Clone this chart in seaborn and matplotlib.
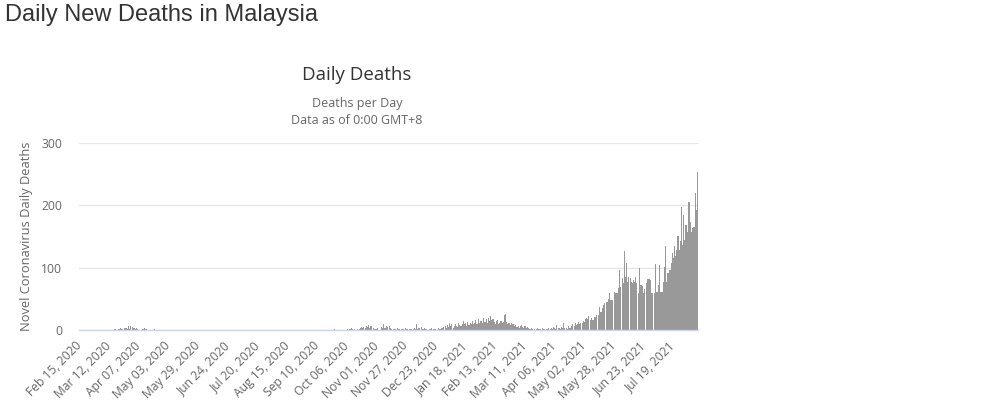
import pandas as pd
import matplotlib
matplotlib.use("Agg")
import matplotlib.pyplot as plt
import seaborn as sns

# Daily new deaths, one list per month
feb_2020 = [0, 0, 0, 0, 0, 0, 0, 0, 0, 0, 0, 0, 0, 0, 0]
mar_2020 = [0, 0, 0, 0, 0, 0, 0, 0, 0, 0, 0, 0, 0, 0, 0, 0,
            2, 0, 0, 1, 2, 4, 2, 2, 3, 4, 3, 1, 7, 2, 6]
apr_2020 = [5, 3, 4, 2, 4, 2, 0, 0, 0, 1, 2, 3, 1, 2, 0,
            0, 0, 0, 0, 0, 2, 0, 0, 0, 0, 0, 0, 0, 0, 0]
may_2020 = [0, 0, 0, 0, 0, 0, 0, 0, 0, 0, 0, 0, 0, 0, 0, 0,
            0, 0, 0, 0, 0, 0, 0, 0, 0, 0, 0, 0, 0, 0, 0]
jun_2020 = [0, 0, 0, 0, 0, 0, 0, 0, 0, 0, 0, 0, 0, 0, 0,
            0, 0, 0, 0, 0, 0, 0, 0, 0, 0, 0, 0, 0, 0, 0]
jul_2020 = [0, 0, 0, 0, 0, 0, 0, 0, 0, 0, 0, 0, 0, 0, 0, 0,
            0, 0, 0, 0, 0, 0, 0, 0, 0, 0, 0, 0, 0, 0, 0]
aug_2020 = [0, 0, 0, 0, 0, 0, 0, 0, 0, 0, 0, 0, 0, 0, 0, 0,
            0, 0, 0, 0, 0, 0, 0, 0, 0, 0, 0, 0, 0, 0, 0]
sep_2020 = [0, 0, 0, 0, 0, 0, 0, 0, 0, 0, 0, 0, 0, 0, 0,
            0, 0, 0, 0, 0, 0, 0, 0, 0, 1, 0, 0, 0, 0, 0]
oct_2020 = [0, 0, 0, 0, 0, 0, 1, 2, 1, 3, 1, 0, 1, 0, 1, 0,
            1, 3, 5, 4, 5, 4, 6, 5, 8, 4, 7, 6, 3, 1, 2]
nov_2020 = [1, 3, 0, 0, 5, 4, 9, 4, 3, 6, 5, 7, 4, 1, 0,
            1, 2, 1, 3, 2, 1, 0, 2, 1, 2, 3, 1, 2, 0, 1]
dec_2020 = [2, 1, 2, 3, 2, 10, 2, 4, 3, 5, 2, 1, 3, 2, 1, 0,
            2, 1, 3, 0, 1, 2, 1, 0, 3, 2, 1, 3, 4, 5, 6]
jan_2021 = [4, 8, 5, 11, 6, 9, 4, 7, 10, 6, 5, 12, 8, 6, 10, 15,
            9, 11, 7, 13, 8, 12, 10, 14, 9, 12, 16, 10, 18, 11, 14]
feb_2021 = [15, 11, 19, 13, 17, 12, 20, 14, 22, 16, 18, 13, 10, 14,
            16, 9, 12, 15, 11, 13, 24, 25, 13, 9, 11, 8, 12, 10]
mar_2021 = [9, 6, 8, 5, 7, 4, 6, 8, 5, 4, 6, 3, 5, 4, 2, 1,
            3, 2, 1, 0, 2, 3, 1, 2, 1, 3, 2, 1, 0, 2, 1]
apr_2021 = [3, 2, 4, 1, 5, 3, 2, 8, 3, 4, 2, 5, 3, 12, 4,
            3, 2, 6, 4, 3, 7, 9, 6, 11, 8, 10, 13, 9, 12, 11]
may_2021 = [15, 13, 18, 20, 17, 23, 16, 20, 16, 16, 21, 21, 24, 24, 37, 29,
            29, 35, 40, 44, 45, 45, 49, 59, 48, 48, 48, 61, 60, 60, 59]
jun_2021 = [67, 96, 69, 83, 75, 126, 85, 107, 77, 85, 83, 77, 75, 80, 77,
            85, 75, 59, 99, 72, 72, 70, 59, 65, 75, 82, 82, 82, 80, 59]
jul_2021 = [59, 59, 106, 61, 61, 72, 104, 61, 61, 77, 101, 134, 77, 91, 91, 96,
            107, 123, 115, 134, 118, 128, 151, 129, 142, 197, 136, 184, 144, 168, 158]
aug_2021 = [206, 206, 174, 158, 163, 166, 219, 193, 254]

start_date = "2020-02-15"
tick_step = 26
y_ticks = [0, 100, 200, 300]

deaths = (feb_2020 + mar_2020 + apr_2020 + may_2020 + jun_2020 + jul_2020
          + aug_2020 + sep_2020 + oct_2020 + nov_2020 + dec_2020 + jan_2021
          + feb_2021 + mar_2021 + apr_2021 + may_2021 + jun_2021 + jul_2021
          + aug_2021)
dates = pd.date_range(start_date, periods=len(deaths), freq="D")
df = pd.DataFrame({"day": dates.strftime("%b %d, %Y"), "deaths": deaths})

sns.set_style("white")
plt.rcParams["font.family"] = ["Open Sans", "DejaVu Sans"]

fig = plt.figure(figsize=(9.84, 4.03), dpi=100)
ax = fig.add_axes([79 / 984, 1 - 330 / 403, 619 / 984, 187 / 403])

sns.barplot(data=df, x="day", y="deaths", color="#999999", saturation=1,
            width=0.92, linewidth=0, errorbar=None, ax=ax)

ax.set_xlim(-0.5, len(deaths) - 0.5)
ax.set_ylim(0, 300)
ax.set_yticks(y_ticks)
ax.set_yticklabels([str(v) for v in y_ticks], color="#666666", fontsize=8.7)
ax.yaxis.grid(True, color="#e6e6e6", linewidth=1)
ax.set_axisbelow(True)

tick_pos = list(range(0, len(deaths), tick_step))
ax.set_xticks(tick_pos)
ax.set_xticklabels(df["day"].iloc[tick_pos], rotation=45, ha="right",
                   va="center", rotation_mode="anchor", color="#666666",
                   fontsize=8.7)
ax.tick_params(axis="both", length=0)
ax.tick_params(axis="x", pad=10)
ax.tick_params(axis="y", pad=12)

for side in ["top", "right", "left"]:
    ax.spines[side].set_visible(False)
ax.spines["bottom"].set_color("#ccd6eb")
ax.spines["bottom"].set_linewidth(1)

ax.set_xlabel("")
ax.set_ylabel("Novel Coronavirus Daily Deaths", color="#666666", fontsize=9.3,
              labelpad=6)

# Page heading and chart titles
fig.text(5 / 984, 1 - 15 / 403, "Daily New Deaths in Malaysia",
         family=["Liberation Sans", "DejaVu Sans"], fontsize=17,
         color="#333333", ha="left", va="center")
fig.text(357 / 984, 1 - 75 / 403, "Daily Deaths", fontsize=13.5,
         color="#333333", ha="center", va="center")
fig.text(357 / 984, 1 - 104 / 403, "Deaths per Day", fontsize=9,
         color="#666666", ha="center", va="center")
fig.text(357 / 984, 1 - 121 / 403, "Data as of 0:00 GMT+8", fontsize=9,
         color="#666666", ha="center", va="center")

fig.savefig("out.png", dpi=100, facecolor="white")
